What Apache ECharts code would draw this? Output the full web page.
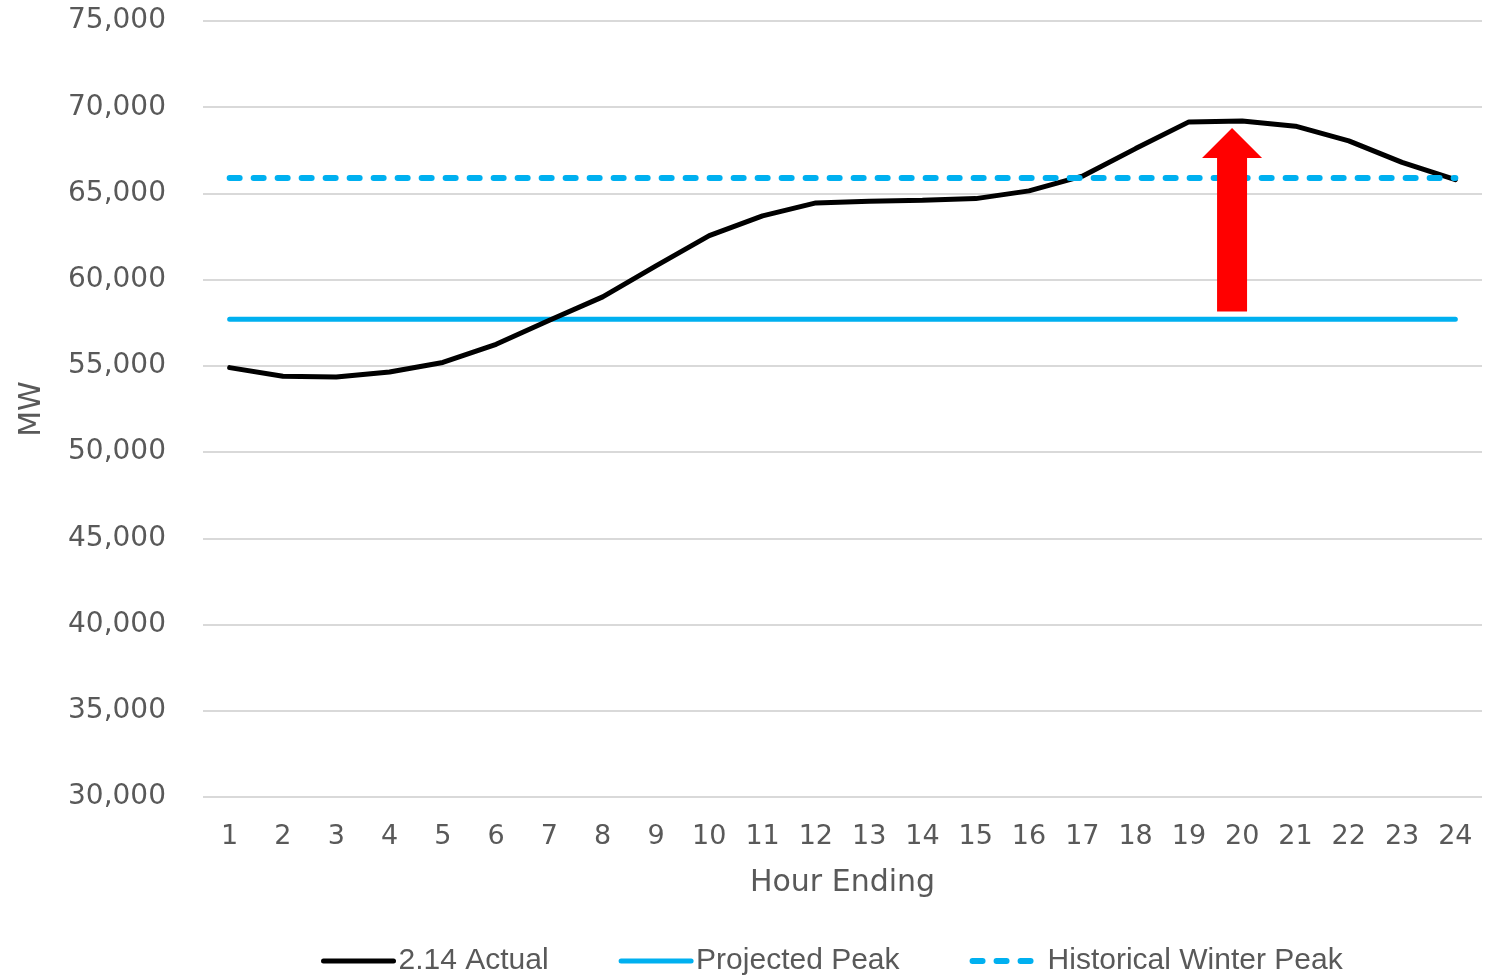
<!DOCTYPE html>
<html>
<head>
<meta charset="utf-8">
<script src="https://cdn.jsdelivr.net/npm/echarts@6/dist/echarts.min.js"></script>
<style>
  html, body { margin: 0; padding: 0; background: #fff; }
  #chart { width: 1498px; height: 975px; }
</style>
</head>
<body>
<div id="chart"></div>
<script>
// Hourly load, 2.14, in MW
const hours = ['1','2','3','4','5','6','7','8','9','10','11','12','13','14','15','16','17','18','19','20','21','22','23','24'];
const actualLoad = [54900, 54400, 54350, 54650, 55200, 56250, 57650, 59000, 60800, 62550, 63700, 64450, 64550, 64600, 64700, 65150, 66000, 67600, 69150, 69200, 68900, 68050, 66800, 65800];
const projectedPeak = [57700, 57700, 57700, 57700, 57700, 57700, 57700, 57700, 57700, 57700, 57700, 57700, 57700, 57700, 57700, 57700, 57700, 57700, 57700, 57700, 57700, 57700, 57700, 57700];
const historicalWinterPeak = [65900, 65900, 65900, 65900, 65900, 65900, 65900, 65900, 65900, 65900, 65900, 65900, 65900, 65900, 65900, 65900, 65900, 65900, 65900, 65900, 65900, 65900, 65900, 65900];
const yTicks = { min: 30000, max: 75000, step: 5000 };
// Up arrow: [hour index, base, head base, tip]
const arrowData = [[18, 58150, 67060, 68800]];

const AXIS_FONT = '"DejaVu Sans", sans-serif';
const LEGEND_FONT = '"Liberation Sans", Arial, sans-serif';
const TEXT = '#595959';
const BLUE = '#00b0f0';

const actualStyle = { color: '#000000', width: 5, cap: 'round' };
const projectedStyle = { color: BLUE, width: 5, cap: 'round' };
const historicalStyle = { color: BLUE, width: 6, type: [10, 14], cap: 'round' };

const chart = echarts.init(document.getElementById('chart'), null, { renderer: 'canvas' });

chart.setOption({
  animation: false,
  backgroundColor: '#ffffff',
  grid: { left: 203, right: 16, top: 21, bottom: 178, containLabel: false, outerBoundsMode: 'none' },
  legend: {
    top: 941,
    left: 316,
    itemWidth: 70,
    itemHeight: 14,
    itemGap: 70,
    itemStyle: { opacity: 0 },
    textStyle: { fontFamily: LEGEND_FONT, fontSize: 30, color: TEXT },
    data: [
      { name: '2.14 Actual', lineStyle: actualStyle, itemStyle: { opacity: 0 } },
      { name: 'Projected Peak', lineStyle: projectedStyle, itemStyle: { opacity: 0 } },
      { name: 'Historical Winter Peak', lineStyle: historicalStyle, itemStyle: { opacity: 0 } }
    ]
  },
  xAxis: {
    type: 'category',
    data: hours,
    boundaryGap: true,
    name: 'Hour Ending',
    nameLocation: 'middle',
    nameGap: 71,
    nameTextStyle: { fontFamily: AXIS_FONT, fontSize: 30, color: TEXT },
    axisLine: { show: false },
    axisTick: { show: false },
    axisLabel: { fontFamily: AXIS_FONT, fontSize: 27, color: TEXT, margin: 26, interval: 0 }
  },
  yAxis: {
    type: 'value',
    min: yTicks.min,
    max: yTicks.max,
    interval: yTicks.step,
    name: 'MW',
    nameLocation: 'middle',
    nameGap: 156,
    nameTextStyle: { fontFamily: AXIS_FONT, fontSize: 30, color: TEXT },
    axisLine: { show: false },
    axisTick: { show: false },
    axisLabel: {
      fontFamily: AXIS_FONT, fontSize: 28, color: TEXT, margin: 37,
      formatter: v => v.toLocaleString('en-US')
    },
    splitLine: { lineStyle: { color: '#d9d9d9', width: 2 } }
  },
  series: [
    {
      name: 'Projected Peak',
      type: 'line',
      data: projectedPeak,
      symbol: 'none',
      lineStyle: projectedStyle,
      itemStyle: { color: BLUE },
      z: 2
    },
    {
      name: '2.14 Actual',
      type: 'line',
      data: actualLoad,
      symbol: 'none',
      lineStyle: actualStyle,
      itemStyle: { color: '#000000' },
      z: 3
    },
    {
      name: 'Historical Winter Peak',
      type: 'line',
      data: historicalWinterPeak,
      symbol: 'none',
      lineStyle: historicalStyle,
      itemStyle: { color: BLUE },
      z: 4
    },
    {
      name: 'arrow',
      type: 'custom',
      data: arrowData,
      z: 5,
      renderItem: (params, api) => {
        const band = api.size([1, 0])[0];
        const base = api.coord([api.value(0), api.value(1)]);
        const headBase = api.coord([api.value(0), api.value(2)]);
        const tip = api.coord([api.value(0), api.value(3)]);
        const cx = base[0] + band * 0.81;
        const sw = 15, hw = 30;
        return {
          type: 'polygon',
          shape: {
            points: [
              [cx - sw, base[1]], [cx + sw, base[1]],
              [cx + sw, headBase[1]], [cx + hw, headBase[1]],
              [cx, tip[1]],
              [cx - hw, headBase[1]], [cx - sw, headBase[1]]
            ]
          },
          style: { fill: '#ff0000' }
        };
      }
    }
  ]
});
</script>
</body>
</html>
